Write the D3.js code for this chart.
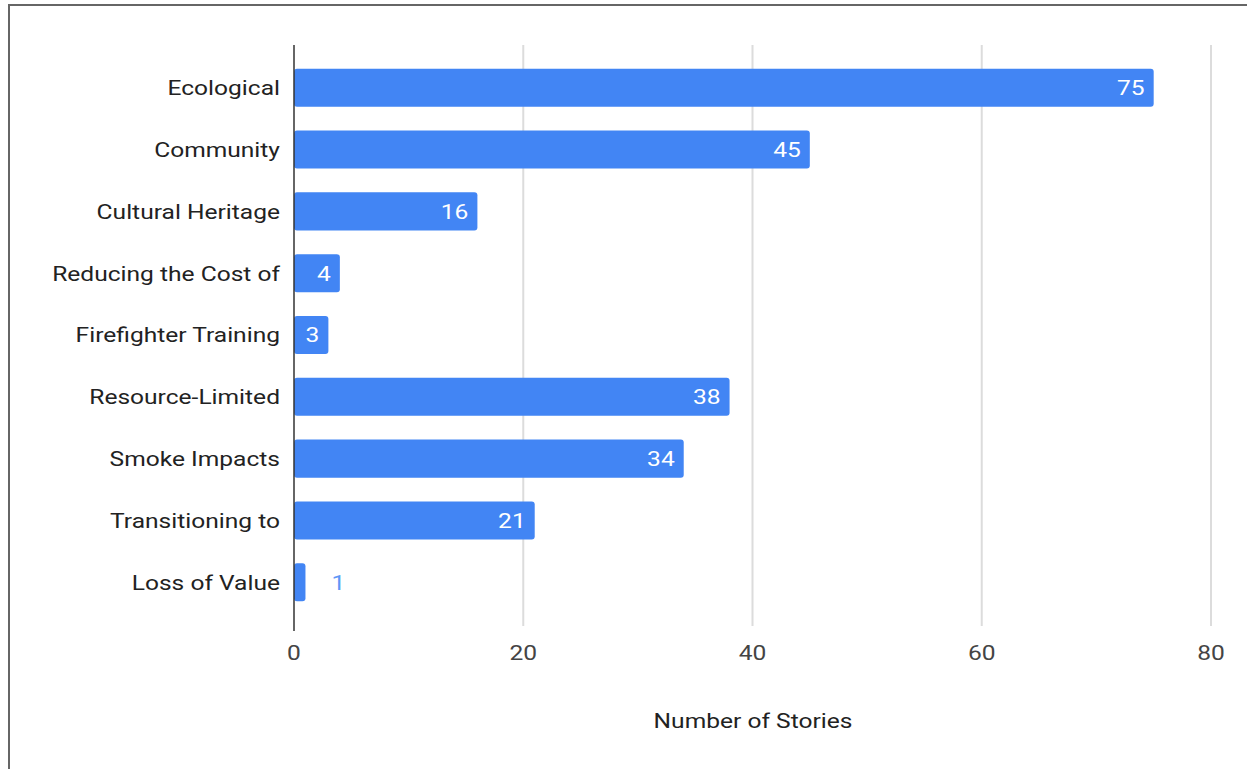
<html>
<head>
<script src="https://d3js.org/d3.v7.min.js"></script>
<style>
body { margin: 0; background: white; }
text { font-family: Roboto, "Open Sans", sans-serif; font-size: 21px; }
</style>
</head>
<body>
<svg id="chart" width="1247" height="769"></svg>
<script>
// chart data
var categories = ["Ecological", "Community", "Cultural Heritage", "Reducing the Cost of",
  "Firefighter Training", "Resource-Limited", "Smoke Impacts", "Transitioning to", "Loss of Value"];
var stories = [75, 45, 16, 4, 3, 38, 34, 21, 1];
var xTicks = [0, 20, 40, 60, 80];

var svg = d3.select("#chart");
var stretch = 1.17; // the picture's text is a bit wider than plain Roboto

// helper: text placed at (px,py), slightly stretched horizontally
function label(parent, px, py, anchor) {
  return parent.append("g")
    .attr("transform", "translate(" + px + "," + py + ") scale(" + stretch + ",1)")
    .append("text")
    .attr("text-anchor", anchor);
}

// frame around the chart (top and left edges only visible)
svg.append("line").attr("x1", 8).attr("y1", 5).attr("x2", 1247).attr("y2", 5)
  .attr("stroke", "#666").attr("stroke-width", 2);
svg.append("line").attr("x1", 9).attr("y1", 5).attr("x2", 9).attr("y2", 769)
  .attr("stroke", "#666").attr("stroke-width", 2);

var x = d3.scaleLinear().domain([0, 80]).range([294, 1211]);
var y = d3.scaleBand().domain(categories).range([57, 613]).paddingInner(0.385).paddingOuter(0.19);

// gridlines
svg.append("g").selectAll("line").data(xTicks.slice(1)).enter().append("line")
  .attr("x1", d => x(d)).attr("x2", d => x(d))
  .attr("y1", 45).attr("y2", 626)
  .attr("stroke", "#dcdcdc").attr("stroke-width", 2);

// bars
svg.append("g").selectAll("rect").data(stories).enter().append("rect")
  .attr("x", x(0))
  .attr("y", (d, i) => y(categories[i]))
  .attr("width", d => x(d) - x(0))
  .attr("height", y.bandwidth())
  .attr("rx", 3)
  .attr("fill", "#4285f4");

// value labels
stories.forEach(function(d, i) {
  var cy = y(categories[i]) + y.bandwidth() / 2;
  var inside = d >= 2;
  label(svg, inside ? x(d) - 9 : x(d) + 26, cy, inside ? "end" : "start")
    .attr("dy", "0.35em")
    .attr("fill", inside ? "white" : "#5e97f6")
    .text(d);
});

// axis line
svg.append("line").attr("x1", x(0)).attr("x2", x(0)).attr("y1", 45).attr("y2", 631)
  .attr("stroke", "#333").attr("stroke-width", 1.5);

// category labels
categories.forEach(function(c) {
  label(svg, 280, y(c) + y.bandwidth() / 2, "end")
    .attr("dy", "0.35em")
    .attr("fill", "#222")
    .text(c);
});

// x tick labels
xTicks.forEach(function(t) {
  label(svg, x(t), 660, "middle").attr("fill", "#444").text(t);
});

// axis title
label(svg, 753, 728, "middle").attr("fill", "#222").text("Number of Stories");
</script>
</body>
</html>
